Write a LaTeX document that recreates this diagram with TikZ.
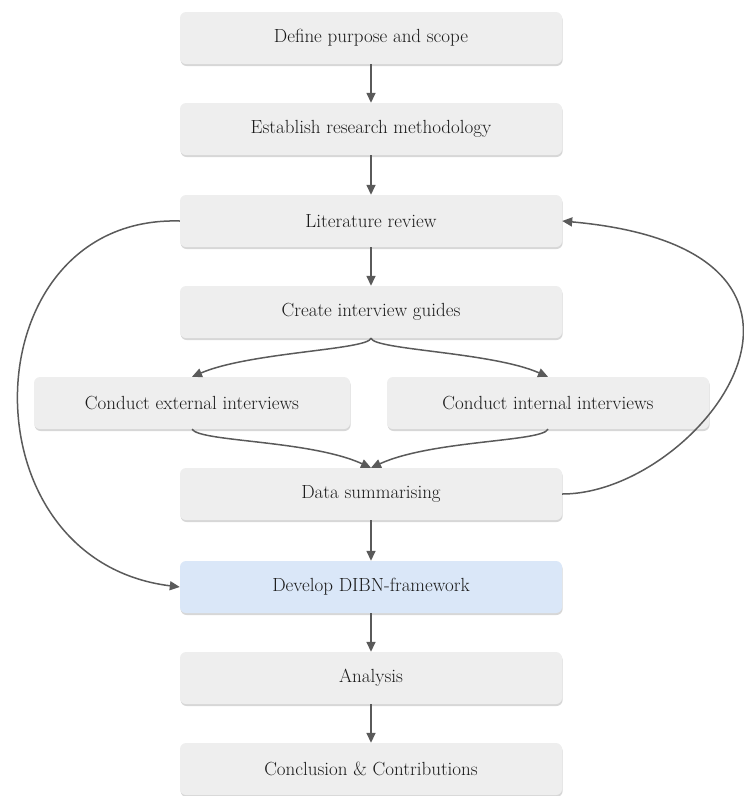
\documentclass[tikz,border=0pt]{standalone}
\usetikzlibrary{arrows.meta,shadows}
\definecolor{boxfill}{HTML}{EEEEEE}
\definecolor{bluefill}{HTML}{DAE7F8}
\definecolor{linegray}{HTML}{5A5A5A}
\definecolor{textgray}{HTML}{1A1A1A}
\tikzset{
  stepbox/.style={rectangle, rounded corners=6pt, fill=boxfill, draw=none,
    minimum width=382pt, minimum height=52pt, inner sep=0pt,
    text=textgray, font=\fontsize{19}{22}\selectfont,
    drop shadow={shadow xshift=0.6pt, shadow yshift=-2pt, opacity=0.35, fill=black!45}},
  flow/.style={draw=linegray, line width=1.5pt,
    -{Triangle[length=10pt,width=9pt]}}
}
\begin{document}
\begin{tikzpicture}[x=1pt,y=-1pt]
\useasboundingbox (0,0) rectangle (744,796);

% main column of steps
\node[stepbox] (purpose) at (371,38) {Define purpose and scope};
\node[stepbox] (method) at (371,129) {Establish research methodology};
\node[stepbox] (lit) at (371,221) {Literature review};
\node[stepbox] (guides) at (371,312) {Create interview guides};
\node[stepbox, minimum width=316pt] (ext) at (192,403) {Conduct external interviews};
\node[stepbox, minimum width=322pt] (int) at (548,403) {Conduct internal interviews};
\node[stepbox] (data) at (371,494) {Data summarising};
\node[stepbox, fill=bluefill] (dibn) at (371,587) {Develop DIBN-framework};
\node[stepbox] (analysis) at (371,678) {Analysis};
\node[stepbox] (concl) at (371,769) {Conclusion \& Contributions};

% straight links
\draw[flow] (purpose) -- (method);
\draw[flow] (method) -- (lit);
\draw[flow] (lit) -- (guides);
\draw[flow] (data) -- (dibn);
\draw[flow] (dibn) -- (analysis);
\draw[flow] (analysis) -- (concl);

% split into the two interview branches and merge again
\draw[flow] (guides.south) .. controls (368,350) and (250,352) .. (ext.north);
\draw[flow] (guides.south) .. controls (374,350) and (492,352) .. (int.north);
\draw[flow] (ext.south) .. controls (200,442) and (310,440) .. (data.north);
\draw[flow] (int.south) .. controls (542,442) and (432,440) .. (data.north);

% feedback and bypass loops
\draw[flow] (lit.west) .. controls (-30,215) and (-40,560) .. (dibn.west);
\draw[flow] (data.east) .. controls (700,494) and (885,250) .. (lit.east);
\end{tikzpicture}
\end{document}
